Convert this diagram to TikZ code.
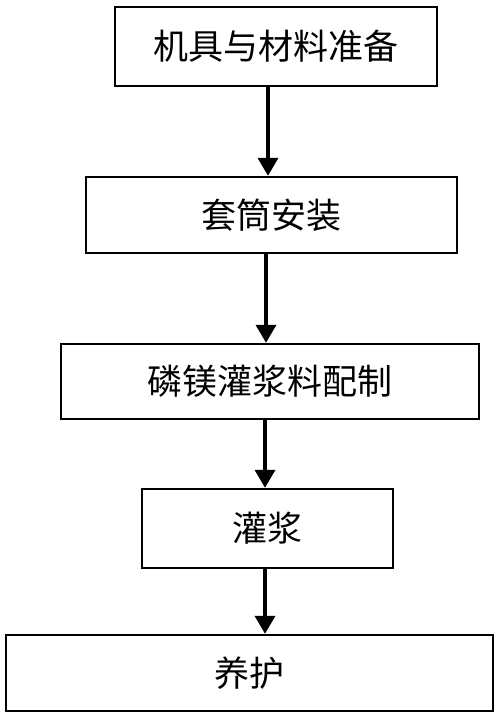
\documentclass[tikz,border=0pt]{standalone}
\usepackage{fontspec}
\usepackage{tikz}
\usetikzlibrary{arrows.meta}
\newfontfamily\cjk{Noto Sans CJK SC}

\tikzset{
  stepbox/.style={draw, line width=1.2pt, inner sep=0pt, font=\cjk\fontsize{17.5}{20}\selectfont},
  flowarrow/.style={line width=1.8pt, -{Triangle[width=10pt,length=9pt]}}
}

\begin{document}
\begin{tikzpicture}[x=0.5pt,y=-0.5pt]
    \useasboundingbox (0,0) rectangle (500,718);
    % steps, top to bottom
    \node[stepbox, minimum width=161pt, minimum height=39.5pt] (tools) at (276,46.5) {机具与材料准备};
    \node[stepbox, minimum width=185.5pt, minimum height=38pt] (sleeve) at (271.5,215) {套筒安装};
    \node[stepbox, minimum width=209pt, minimum height=37.5pt] (mix) at (270,381.5) {磷镁灌浆料配制};
    \node[stepbox, minimum width=125.5pt, minimum height=39.5pt] (grout) at (267.5,528.5) {灌浆};
    \node[stepbox, minimum width=243.5pt, minimum height=38pt] (cure) at (249.5,673) {养护};
    % arrow columns
    \coordinate (a1) at (268,0);
    \coordinate (a2) at (266,0);
    \coordinate (a3) at (265,0);
    \coordinate (a4) at (265,0);
    \draw[flowarrow] (tools.south -| a1) -- (sleeve.north -| a1);
    \draw[flowarrow] (sleeve.south -| a2) -- (mix.north -| a2);
    \draw[flowarrow] (mix.south -| a3) -- (grout.north -| a3);
    \draw[flowarrow] (grout.south -| a4) -- (cure.north -| a4);
\end{tikzpicture}
\end{document}
